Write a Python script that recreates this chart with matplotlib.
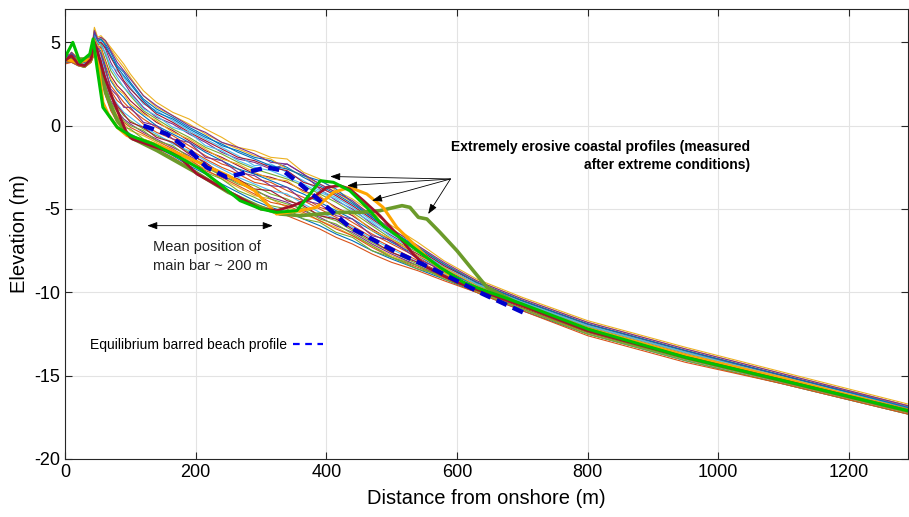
import matplotlib
matplotlib.use("Agg")
import matplotlib.pyplot as plt
from matplotlib.lines import Line2D

plt.rcParams['font.family'] = ['Liberation Sans', 'DejaVu Sans']
plt.rcParams['axes.unicode_minus'] = False

# shared cross-shore stations (m) for the measured profiles
stations = [0, 10, 20, 30, 40, 45, 50, 55, 62, 70, 80, 90, 100, 120, 140, 165, 190, 215,
            240, 265, 290, 315, 340, 365, 390, 415, 440, 470, 500, 540, 580, 630, 700,
            800, 950, 1100, 1290]

profiles = [
    [4.1, 4.3, 3.9, 3.7, 4.2, 5.6, 5.0, 5.2, 4.9, 4.4, 3.6, 3.2, 2.6, 1.6, 1.0, 0.5, -0.1, -0.6,
     -1.2, -1.5, -1.9, -2.1, -2.5, -3.1, -3.6, -4.1, -4.7, -5.5, -6.3, -7.3, -8.3, -9.4, -10.5,
     -11.9, -13.5, -15.0, -16.9],
    [3.9, 4.1, 3.8, 3.6, 4.0, 5.0, 4.5, 4.4, 3.2, 2.4, 1.9, 1.4, 1.0, 0.4, -0.1, -0.6, -1.2, -1.8,
     -2.3, -2.6, -3.2, -3.4, -3.9, -4.3, -4.9, -5.2, -5.8, -6.5, -7.1, -7.9, -8.8, -9.7, -10.8,
     -12.2, -13.8, -15.2, -17.0],
    [3.8, 3.9, 3.7, 3.5, 3.9, 4.5, 4.0, 3.4, 2.2, 1.3, 0.6, 0.1, -0.3, -0.6, -1.0, -1.5, -2.1, -2.6,
     -3.2, -3.7, -4.2, -4.4, -4.9, -5.3, -5.7, -6.1, -6.6, -7.2, -7.8, -8.4, -9.1, -9.9, -11.0,
     -12.4, -14.0, -15.4, -17.2],
    [4.0, 4.2, 3.9, 3.7, 4.1, 5.3, 4.8, 5.0, 4.6, 3.8, 3.1, 2.6, 2.0, 1.1, 0.5, 0.1, -0.5, -1.0,
     -1.6, -2.0, -2.2, -2.6, -2.3, -2.9, -3.8, -4.5, -5.0, -5.9, -6.6, -7.5, -8.5, -9.5, -10.6,
     -12.0, -13.6, -15.0, -16.8],
    [4.2, 4.0, 3.7, 3.6, 3.9, 4.8, 4.3, 4.0, 2.6, 1.7, 1.1, 0.6, 0.3, -0.2, -0.6, -1.0, -1.6, -2.3,
     -2.8, -3.3, -3.6, -4.1, -4.4, -4.9, -5.4, -5.7, -6.3, -7.0, -7.6, -8.3, -9.0, -9.8, -10.9,
     -12.3, -13.9, -15.3, -17.1],
    [3.7, 4.4, 4.0, 3.8, 4.3, 5.8, 5.2, 5.1, 4.2, 3.6, 3.3, 2.9, 2.3, 1.3, 0.9, 0.3, -0.3, -0.8,
     -1.3, -1.8, -2.4, -2.3, -2.8, -3.3, -3.9, -4.3, -4.9, -5.7, -6.5, -7.4, -8.4, -9.4, -10.5,
     -11.9, -13.5, -15.0, -16.9],
    [4.1, 4.2, 3.8, 3.6, 4.2, 5.4, 4.6, 4.7, 3.9, 3.0, 2.4, 2.0, 1.5, 0.8, 0.2, -0.3, -0.9, -1.5,
     -1.9, -2.4, -2.9, -3.1, -3.4, -3.9, -4.3, -4.9, -5.4, -6.2, -6.9, -7.7, -8.6, -9.6, -10.7,
     -12.1, -13.7, -15.1, -17.0],
    [3.8, 3.8, 3.6, 3.5, 3.9, 4.3, 3.9, 3.1, 1.9, 1.0, 0.3, -0.2, -0.5, -0.9, -1.3, -1.8, -2.4, -2.9,
     -3.5, -4.0, -4.5, -4.9, -5.2, -5.6, -6.0, -6.5, -6.9, -7.5, -8.0, -8.6, -9.2, -10.0, -11.1,
     -12.5, -14.1, -15.5, -17.3],
    [4.0, 4.1, 3.9, 3.7, 4.0, 5.1, 4.7, 4.8, 3.5, 2.1, 1.5, 1.2, 0.8, 0.1, -0.4, -0.8, -1.4, -2.0,
     -2.5, -2.9, -3.4, -3.6, -4.2, -4.5, -5.0, -5.5, -6.0, -6.7, -7.3, -8.1, -8.9, -9.8, -10.8,
     -12.2, -13.8, -15.2, -17.1],
    [3.9, 4.3, 4.0, 3.8, 4.2, 5.5, 5.1, 5.3, 5.0, 4.6, 4.0, 3.5, 2.9, 1.8, 1.1, 0.6, 0.1, -0.5,
     -1.0, -1.4, -1.8, -2.0, -2.6, -3.0, -3.5, -4.0, -4.6, -5.4, -6.2, -7.2, -8.3, -9.3, -10.4,
     -11.8, -13.4, -14.9, -16.8],
    [4.1, 4.0, 3.8, 3.6, 4.0, 4.6, 4.2, 3.8, 2.4, 1.5, 0.9, 0.4, 0.1, -0.4, -0.8, -1.3, -1.8, -2.4,
     -3.0, -3.4, -3.9, -4.3, -4.6, -5.1, -5.5, -6.0, -6.4, -7.1, -7.7, -8.4, -9.1, -9.9, -10.9,
     -12.4, -14.0, -15.4, -17.2],
    [4.0, 4.2, 3.8, 3.7, 4.1, 5.6, 4.9, 4.9, 4.3, 3.3, 2.7, 2.3, 1.8, 0.9, 0.4, -0.2, -0.7, -1.3,
     -1.7, -2.2, -2.6, -2.9, -3.2, -3.6, -4.1, -4.6, -5.2, -6.0, -6.8, -7.6, -8.6, -9.5, -10.6,
     -12.0, -13.6, -15.1, -16.9],
    [3.9, 4.1, 3.7, 3.6, 4.0, 4.9, 4.4, 4.2, 3.0, 1.9, 1.3, 0.8, 0.5, -0.1, -0.5, -1.1, -1.5, -2.1,
     -2.6, -3.1, -3.5, -3.9, -4.1, -4.7, -5.2, -5.6, -6.1, -6.8, -7.4, -8.2, -8.9, -9.8, -10.8,
     -12.3, -13.9, -15.3, -17.1],
    [4.2, 4.3, 3.9, 3.8, 4.2, 5.7, 5.0, 5.0, 4.7, 4.1, 3.4, 2.7, 2.2, 1.4, 0.7, 0.2, -0.4, -0.9,
     -1.4, -1.9, -2.1, -2.5, -2.7, -3.4, -3.7, -4.2, -4.8, -5.6, -6.4, -7.4, -8.4, -9.4, -10.5,
     -11.9, -13.5, -15.0, -16.9],
    [4.0, 4.0, 3.8, 3.6, 4.1, 5.2, 4.6, 4.5, 3.6, 2.7, 2.1, 1.7, 1.2, 0.6, 0.0, -0.5, -1.0, -1.6,
     -2.1, -2.6, -2.9, -3.3, -3.7, -4.1, -4.6, -5.1, -5.6, -6.3, -7.0, -7.8, -8.7, -9.6, -10.7,
     -12.1, -13.7, -15.2, -17.0],
    [3.8, 3.9, 3.7, 3.5, 3.9, 4.4, 4.1, 3.6, 2.0, 1.2, 0.5, 0.2, -0.1, -0.5, -0.9, -1.4, -2.0, -2.7,
     -3.1, -3.6, -4.1, -4.6, -4.8, -5.2, -5.7, -6.2, -6.6, -7.3, -7.9, -8.5, -9.1, -9.9, -11.0,
     -12.4, -14.0, -15.4, -17.2],
    [4.0, 4.4, 4.1, 3.8, 4.3, 5.9, 5.3, 5.4, 5.1, 4.7, 4.2, 3.7, 3.1, 2.1, 1.4, 0.8, 0.4, -0.2,
     -0.7, -1.3, -1.5, -1.9, -2.0, -2.8, -3.2, -3.9, -4.4, -5.2, -6.0, -7.0, -8.1, -9.2, -10.3,
     -11.7, -13.3, -14.8, -16.7],
    [4.1, 4.2, 3.8, 3.7, 4.1, 5.3, 4.7, 4.3, 3.4, 2.2, 1.8, 1.1, 1.1, 0.2, 0.0, -0.8, -1.0, -1.9,
     -2.1, -2.8, -3.0, -3.6, -3.7, -4.5, -4.7, -5.4, -5.6, -6.6, -6.9, -8.0, -8.7, -9.8, -10.7,
     -12.3, -13.8, -15.3, -17.0],
    [3.9, 3.9, 3.6, 3.5, 3.8, 4.4, 3.8, 3.2, 2.0, 1.1, 0.5, -0.1, -0.2, -0.8, -1.1, -1.7, -2.2, -2.8,
     -3.2, -3.9, -4.3, -4.8, -5.0, -5.6, -5.8, -6.4, -6.7, -7.5, -7.9, -8.6, -9.0, -10.0, -11.0,
     -12.5, -14.1, -15.5, -17.3],
    [3.8, 4.3, 3.9, 3.7, 4.2, 5.5, 5.0, 4.8, 4.4, 3.5, 2.9, 2.3, 1.9, 1.0, 0.6, -0.1, -0.4, -1.2,
     -1.5, -2.1, -2.5, -2.7, -3.1, -3.5, -4.0, -4.4, -5.1, -5.8, -6.7, -7.5, -8.5, -9.5, -10.6,
     -12.0, -13.6, -15.1, -16.9],
    [4.0, 4.1, 3.7, 3.6, 4.0, 4.7, 4.3, 3.9, 2.8, 1.8, 1.2, 0.7, 0.2, -0.1, -0.7, -1.0, -1.7, -2.2,
     -2.9, -3.2, -3.8, -3.9, -4.5, -4.8, -5.4, -5.6, -6.2, -6.9, -7.6, -8.2, -9.0, -9.8, -10.9,
     -12.3, -13.9, -15.3, -17.1],
    [4.1, 4.3, 4.0, 3.8, 4.2, 5.6, 5.1, 5.2, 4.8, 4.2, 3.5, 3.0, 2.5, 1.5, 0.8, 0.4, -0.2, -0.7,
     -1.1, -1.6, -2.0, -2.4, -2.6, -3.0, -3.3, -3.8, -4.6, -5.5, -6.4, -7.3, -8.3, -9.4, -10.5,
     -11.9, -13.5, -15.0, -16.9],
    [3.7, 3.8, 3.6, 3.5, 3.8, 4.3, 3.8, 2.9, 1.8, 0.9, 0.2, -0.3, -0.6, -1.0, -1.4, -1.9, -2.5, -3.1,
     -3.7, -4.2, -4.7, -5.0, -5.4, -5.8, -6.2, -6.7, -7.1, -7.7, -8.2, -8.7, -9.3, -10.0, -11.1,
     -12.6, -14.2, -15.5, -17.3],
    [4.0, 4.1, 3.9, 3.6, 4.1, 5.2, 4.8, 4.6, 3.8, 2.8, 2.2, 1.9, 1.3, 0.7, 0.3, -0.4, -0.8, -1.4,
     -2.0, -2.3, -2.8, -3.2, -3.3, -4.0, -4.2, -5.0, -5.3, -6.3, -6.8, -7.8, -8.5, -9.6, -10.7,
     -12.1, -13.7, -15.1, -17.0],
    [3.9, 4.4, 4.0, 3.8, 4.3, 5.7, 5.2, 5.3, 5.1, 4.5, 3.8, 3.3, 2.8, 1.8, 1.2, 0.6, 0.0, -0.4,
     -1.0, -1.3, -1.7, -2.2, -2.3, -2.9, -3.5, -4.0, -4.5, -5.4, -6.2, -7.2, -8.2, -9.3, -10.4,
     -11.8, -13.4, -14.9, -16.8],
    [4.0, 4.0, 3.8, 3.5, 3.9, 4.5, 4.0, 3.7, 2.3, 1.4, 0.8, 0.3, 0.0, -0.3, -0.9, -1.2, -1.9, -2.5,
     -3.0, -3.5, -3.8, -4.4, -4.7, -5.0, -5.6, -5.9, -6.5, -7.2, -7.9, -8.4, -9.2, -9.9, -11.0,
     -12.5, -14.0, -15.4, -17.2],
]

# erosive profiles measured after extreme conditions
green_x = [0, 12, 23, 38, 43, 49, 58, 80, 100, 135, 150, 180, 207, 240, 268, 300, 324, 355,
           375, 391, 411, 436, 462, 487, 533, 574, 610, 636, 700, 800, 950, 1100, 1290]
green_y = [4.1, 5.0, 3.8, 4.3, 5.2, 3.5, 1.1, -0.1, -0.6, -1.1, -1.4, -2.0, -2.6, -3.6, -4.5,
           -5.0, -5.2, -5.1, -4.1, -3.3, -3.4, -3.9, -4.9, -6.0, -7.3, -8.5, -9.4, -9.8, -10.7,
           -12.2, -13.9, -15.3, -17.1]

red_x = [0, 10, 20, 30, 40, 45, 50, 60, 74, 95, 103, 125, 161, 176, 202, 248, 299, 324, 349,
         380, 401, 421, 436, 457, 482, 508, 533, 554, 600, 700, 800, 950, 1100, 1290]
red_y = [3.9, 4.2, 3.7, 3.6, 4.0, 5.0, 4.4, 3.0, 1.5, -0.5, -0.8, -1.1, -1.6, -1.9, -2.9, -3.9,
         -5.0, -5.1, -4.8, -4.3, -3.7, -3.6, -3.8, -4.5, -5.4, -6.5, -7.7, -8.5, -9.4, -10.8,
         -12.3, -13.9, -15.3, -17.1]

orange_x = [0, 20, 40, 45, 50, 58, 66, 80, 95, 130, 170, 210, 250, 290, 324, 360, 385, 411,
            436, 462, 487, 508, 539, 559, 600, 700, 800, 950, 1100, 1290]
orange_y = [4.0, 3.8, 4.0, 4.6, 4.0, 1.4, 0.7, -0.1, -0.6, -1.0, -1.6, -2.3, -3.0, -3.9, -5.3,
            -5.1, -4.9, -4.0, -3.7, -4.1, -4.9, -6.1, -7.3, -8.1, -9.3, -10.8, -12.2, -13.8,
            -15.2, -17.1]

olive_x = [0, 40, 45, 55, 62, 80, 100, 141, 200, 250, 300, 329, 360, 421, 452, 482, 516, 528,
           541, 554, 574, 600, 625, 646, 700, 800, 950, 1100, 1290]
olive_y = [4.0, 4.0, 4.8, 3.5, 2.0, 0.3, -0.7, -1.5, -2.8, -4.0, -4.9, -5.3, -5.4, -5.2, -5.2,
           -5.1, -4.8, -4.9, -5.5, -5.6, -6.4, -7.5, -8.7, -9.7, -10.8, -12.3, -13.9, -15.3,
           -17.1]

# equilibrium barred beach profile
eq_x = [120, 156, 191, 217, 248, 268, 309, 334, 360, 390, 436, 513, 569, 640, 701]
eq_y = [0.0, -0.5, -1.5, -2.5, -3.1, -2.9, -2.5, -2.7, -3.5, -4.5, -6.1, -7.7, -8.7, -10.1, -11.2]

thin_colors = ['#0072BD', '#D95319', '#EDB120', '#7E2F8E', '#77AC30', '#4DBEEE', '#A2142F']

fig = plt.figure(figsize=(9.09, 5.17), dpi=100)
ax = fig.add_axes([0.0715, 0.1122, 0.927, 0.8704])

for i, p in enumerate(profiles):
    ax.plot(stations, p, color=thin_colors[i % len(thin_colors)], lw=0.8)

ax.plot(olive_x, olive_y, color='#6B9B2A', lw=2.6)
ax.plot(orange_x, orange_y, color='#FFA500', lw=2.2)
ax.plot(red_x, red_y, color='#A0102A', lw=2.0)
ax.plot(green_x, green_y, color='#00C000', lw=2.2)
ax.plot(eq_x, eq_y, color='#0000CC', lw=3.2, ls=(0, (2.5, 1.5)))

ax.set_xlim(0, 1290)
ax.set_ylim(-20, 7)
ax.set_xticks(range(0, 1201, 200))
ax.set_yticks([-20, -15, -10, -5, 0, 5])
ax.tick_params(labelsize=13, direction='in', top=True, right=True, length=5,
               color='#262626')
ax.grid(True, color='#e3e3e3', lw=0.8)
ax.set_axisbelow(True)
for s in ax.spines.values():
    s.set_color('#262626')
    s.set_linewidth(0.8)
ax.set_xlabel('Distance from onshore (m)', fontsize=14.5, labelpad=6)
ax.set_ylabel('Elevation (m)', fontsize=14.5, labelpad=4)

# annotations
ax.text(1049, -1.8, 'Extremely erosive coastal profiles (measured\nafter extreme conditions)',
        ha='right', va='center', fontsize=10, fontweight='bold', linespacing=1.35)
for tx, ty in [(406, -3.05), (432, -3.6), (470, -4.5), (556, -5.3)]:
    ax.annotate('', xy=(tx, ty), xytext=(590, -3.2),
                arrowprops=dict(arrowstyle='-|>,head_length=0.6,head_width=0.22',
                                color='black', lw=0.6, shrinkA=0, shrinkB=0))

ax.annotate('', xy=(126, -6.0), xytext=(318, -6.0),
            arrowprops=dict(arrowstyle='<|-|>,head_length=0.6,head_width=0.22',
                            color='black', lw=0.6, shrinkA=0, shrinkB=0))
ax.text(135, -7.85, 'Mean position of\nmain bar ~ 200 m', ha='left', va='center',
        fontsize=10.5, color='#222222', linespacing=1.4)

leg_handle = Line2D([], [], color='#0000FF', lw=1.6, ls=(0, (3, 2.5)))
ax.legend([leg_handle], ['Equilibrium barred beach profile'], loc='center left',
          bbox_to_anchor=(0.015, 0.254), frameon=False, markerfirst=False,
          fontsize=10, handlelength=2.2, handletextpad=0.4)

fig.savefig('out.png', dpi=100)
